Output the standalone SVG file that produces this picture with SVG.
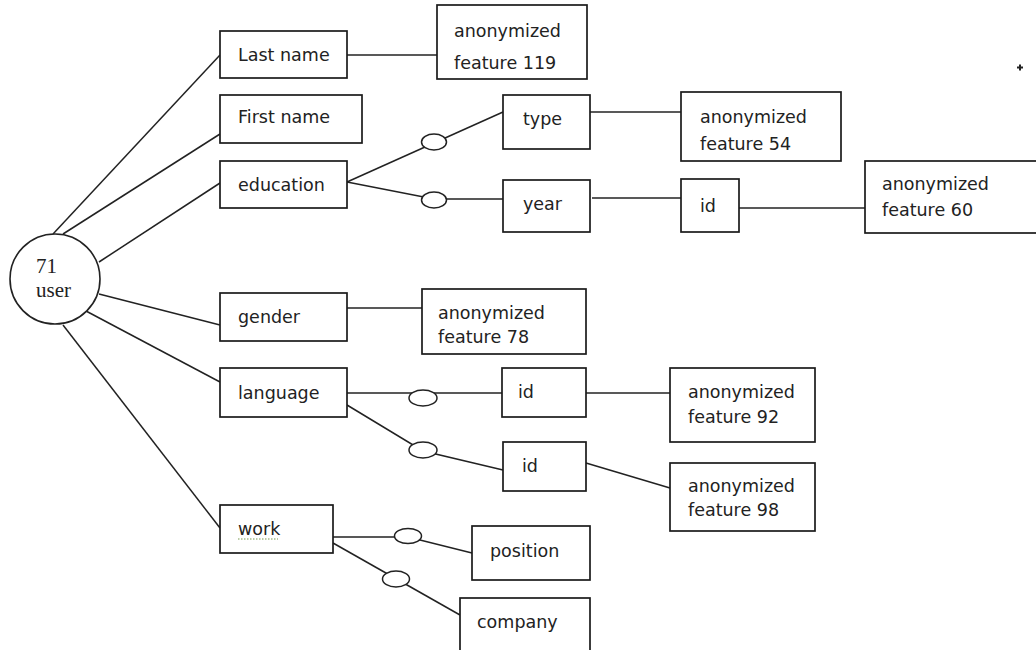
<svg xmlns="http://www.w3.org/2000/svg" width="1036" height="650" viewBox="0 0 1036 650">
<style>
.box{fill:#fff;stroke:#1a1a1a;stroke-width:1.7}
.t{font-family:"DejaVu Sans",Verdana,sans-serif;font-size:17.5px;fill:#222}
.s{font-family:"Liberation Serif","Times New Roman",serif;font-size:21px;fill:#222}
.ln{fill:none;stroke:#222;stroke-width:1.5}
.ov{fill:#fff;stroke:#222;stroke-width:1.5}
</style>
<rect width="1036" height="650" fill="#fff"/>
<g id="connectors">
<line class="ln" x1="53" y1="234" x2="220" y2="55"/>
<line class="ln" x1="63" y1="234" x2="220" y2="134"/>
<line class="ln" x1="99" y1="262" x2="220" y2="183"/>
<line class="ln" x1="99" y1="294" x2="220" y2="325"/>
<line class="ln" x1="86" y1="311" x2="220" y2="382"/>
<line class="ln" x1="63" y1="325" x2="220" y2="528"/>
<line class="ln" x1="347" y1="55" x2="437" y2="55"/>
<line class="ln" x1="347" y1="182" x2="503" y2="112"/>
<polyline class="ln" points="347,182 434,199 503,199"/>
<line class="ln" x1="590" y1="112" x2="681" y2="112"/>
<line class="ln" x1="592" y1="198" x2="681" y2="198"/>
<line class="ln" x1="739" y1="208" x2="865" y2="208"/>
<line class="ln" x1="347" y1="308" x2="422" y2="308"/>
<line class="ln" x1="347" y1="393" x2="502" y2="393"/>
<polyline class="ln" points="347,405 423,451 503,470"/>
<line class="ln" x1="586" y1="393" x2="670" y2="393"/>
<line class="ln" x1="586" y1="463" x2="670" y2="488"/>
<polyline class="ln" points="333,537 408,537 472,553"/>
<line class="ln" x1="333" y1="543" x2="460" y2="615"/>
<ellipse class="ov" cx="434" cy="142" rx="12.5" ry="8"/>
<ellipse class="ov" cx="434" cy="200" rx="12.5" ry="8"/>
<ellipse class="ov" cx="423" cy="398" rx="14" ry="8"/>
<ellipse class="ov" cx="423" cy="450" rx="14" ry="8"/>
<ellipse class="ov" cx="408" cy="536" rx="13.5" ry="7.5"/>
<ellipse class="ov" cx="396" cy="579" rx="13.5" ry="8"/>
</g>
<g id="user">
<circle cx="55" cy="279" r="45" fill="#fff" stroke="#222" stroke-width="1.6"/>
<text class="s" x="36" y="273">71</text>
<text class="s" x="36" y="297">user</text>
</g>
<g id="lastname"><rect class="box" x="220" y="31" width="127" height="47"/><text class="t" x="238" y="61">Last name</text></g>
<g id="firstname"><rect class="box" x="220" y="95" width="142" height="48"/><text class="t" x="238" y="123">First name</text></g>
<g id="education"><rect class="box" x="220" y="161" width="127" height="47"/><text class="t" x="238" y="191">education</text></g>
<g id="gender"><rect class="box" x="220" y="293" width="127" height="48"/><text class="t" x="238" y="323">gender</text></g>
<g id="language"><rect class="box" x="220" y="368" width="127" height="49"/><text class="t" x="238" y="399">language</text></g>
<g id="work"><rect class="box" x="220" y="505" width="113" height="48"/><text class="t" x="238" y="535">work</text>
<line x1="238" y1="539" x2="278" y2="539" stroke="#7a9a50" stroke-width="1.2" stroke-dasharray="1.5,1.5"/></g>
<g id="f119"><rect class="box" x="437" y="5" width="150" height="74"/><text class="t" x="454" y="37">anonymized</text><text class="t" x="454" y="69">feature 119</text></g>
<g id="type"><rect class="box" x="503" y="95" width="87" height="54"/><text class="t" x="523" y="125">type</text></g>
<g id="year"><rect class="box" x="503" y="180" width="87" height="52"/><text class="t" x="523" y="210">year</text></g>
<g id="f54"><rect class="box" x="681" y="92" width="160" height="69"/><text class="t" x="700" y="123">anonymized</text><text class="t" x="700" y="150">feature 54</text></g>
<g id="eduid"><rect class="box" x="681" y="179" width="58" height="53"/><text class="t" x="700" y="212">id</text></g>
<g id="f60"><rect class="box" x="865" y="161" width="180" height="72"/><text class="t" x="882" y="190">anonymized</text><text class="t" x="882" y="216">feature 60</text></g>
<g id="f78"><rect class="box" x="422" y="289" width="164" height="65"/><text class="t" x="438" y="319">anonymized</text><text class="t" x="438" y="343">feature 78</text></g>
<g id="langid1"><rect class="box" x="502" y="368" width="84" height="49"/><text class="t" x="518" y="398">id</text></g>
<g id="langid2"><rect class="box" x="503" y="442" width="83" height="49"/><text class="t" x="522" y="472">id</text></g>
<g id="f92"><rect class="box" x="670" y="368" width="145" height="74"/><text class="t" x="688" y="398">anonymized</text><text class="t" x="688" y="423">feature 92</text></g>
<g id="f98"><rect class="box" x="670" y="463" width="145" height="68"/><text class="t" x="688" y="492">anonymized</text><text class="t" x="688" y="516">feature 98</text></g>
<g id="position"><rect class="box" x="472" y="526" width="118" height="54"/><text class="t" x="490" y="557">position</text></g>
<g id="company"><rect class="box" x="460" y="598" width="130" height="56"/><text class="t" x="477" y="628">company</text></g>
<path d="M1020,64.5 V70.5 M1017,67.5 H1023" stroke="#222" stroke-width="2"/>
</svg>
